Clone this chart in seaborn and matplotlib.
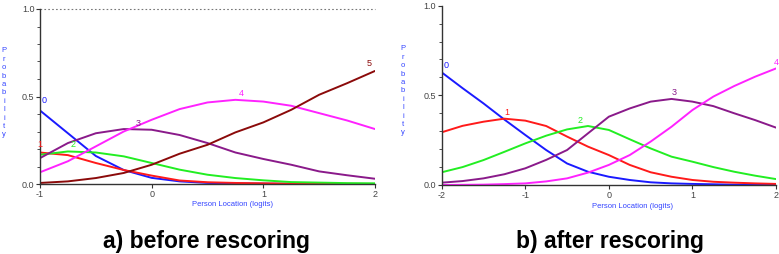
import numpy as np
import pandas as pd
import matplotlib
matplotlib.use("Agg")
import matplotlib.pyplot as plt
import seaborn as sns

# ---- data: panel a (before rescoring), categories 0..5 ----
xa = [-1.0, -0.75, -0.5, -0.25, 0.0, 0.25, 0.5, 0.75, 1.0, 1.25, 1.5, 1.75, 2.0]
a_cat0 = [0.42, 0.29, 0.16, 0.08, 0.035, 0.015, 0.006, 0.003, 0.002, 0.001, 0.001, 0.0, 0.0]
a_cat1 = [0.18, 0.165, 0.12, 0.08, 0.048, 0.02, 0.01, 0.006, 0.004, 0.002, 0.001, 0.001, 0.0]
a_cat2 = [0.167, 0.186, 0.18, 0.158, 0.12, 0.082, 0.053, 0.034, 0.021, 0.011, 0.008, 0.005, 0.004]
a_cat3 = [0.148, 0.234, 0.29, 0.314, 0.31, 0.28, 0.234, 0.18, 0.143, 0.11, 0.072, 0.05, 0.03]
a_cat4 = [0.067, 0.13, 0.215, 0.30, 0.367, 0.428, 0.466, 0.481, 0.471, 0.447, 0.405, 0.363, 0.314]
a_cat5 = [0.006, 0.015, 0.034, 0.063, 0.11, 0.173, 0.224, 0.295, 0.352, 0.424, 0.51, 0.576, 0.646]

# ---- data: panel b (after rescoring), categories 0..4 ----
xb = [-2.0, -1.75, -1.5, -1.25, -1.0, -0.75, -0.5, -0.25, 0.0, 0.25, 0.5, 0.75, 1.0, 1.25, 1.5, 1.75, 2.0]
b_cat0 = [0.628, 0.54, 0.455, 0.365, 0.279, 0.195, 0.12, 0.074, 0.046, 0.028, 0.015, 0.009, 0.006, 0.004, 0.002, 0.001, 0.001]
b_cat1 = [0.294, 0.33, 0.353, 0.37, 0.359, 0.329, 0.27, 0.214, 0.167, 0.112, 0.071, 0.046, 0.028, 0.018, 0.013, 0.009, 0.006]
b_cat2 = [0.071, 0.10, 0.139, 0.185, 0.232, 0.275, 0.31, 0.329, 0.307, 0.255, 0.204, 0.158, 0.13, 0.10, 0.074, 0.052, 0.033]
b_cat3 = [0.013, 0.022, 0.037, 0.06, 0.093, 0.14, 0.195, 0.288, 0.381, 0.427, 0.465, 0.48, 0.465, 0.44, 0.40, 0.362, 0.32]
b_cat4 = [0.0, 0.001, 0.002, 0.005, 0.009, 0.02, 0.037, 0.069, 0.112, 0.167, 0.242, 0.325, 0.418, 0.493, 0.552, 0.604, 0.65]

a_labels = ["0", "1", "2", "3", "4", "5"]
b_labels = ["0", "1", "2", "3", "4"]
a_label_pos = [(-0.96, 0.45), (-1.0, 0.2), (-0.7, 0.2), (-0.12, 0.32), (0.8, 0.49), (1.95, 0.66)]
b_label_pos = [(-1.95, 0.64), (-1.22, 0.38), (-0.35, 0.335), (0.78, 0.49), (2.0, 0.66)]

titles = ["a) before rescoring", "b) after rescoring"]
xlabel = "Person Location (logits)"
ylabel = "Probability"

colors_a = ["#1a1aff", "#ff1a1a", "#22ee22", "#8a1a8a", "#ff22ff", "#8b0a0a"]
colors_b = ["#1a1aff", "#ff1a1a", "#22ee22", "#8a1a8a", "#ff22ff"]

sns.set_theme(style="white")
plt.rcParams['font.family'] = ['Liberation Sans', 'DejaVu Sans']

fig = plt.figure(figsize=(7.79, 2.54), dpi=100)
axA = fig.add_axes([40/779, 1-184/254, 335/779, 175/254])
axB = fig.add_axes([441.7/779, 1-185/254, 334.3/779, 179.3/254])

def long_df(x, series, labels):
    rows = []
    for lab, ys in zip(labels, series):
        for xv, yv in zip(x, ys):
            rows.append((xv, yv, lab))
    return pd.DataFrame(rows, columns=["x", "p", "cat"])

dfA = long_df(xa, [a_cat0, a_cat1, a_cat2, a_cat3, a_cat4, a_cat5], a_labels)
dfB = long_df(xb, [b_cat0, b_cat1, b_cat2, b_cat3, b_cat4], b_labels)

sns.lineplot(data=dfA, x="x", y="p", hue="cat", palette=colors_a, ax=axA, lw=1.4, legend=False)
sns.lineplot(data=dfB, x="x", y="p", hue="cat", palette=colors_b, ax=axB, lw=1.4, legend=False)

for ax, labs, pos, cols in [(axA, a_labels, a_label_pos, colors_a), (axB, b_labels, b_label_pos, colors_b)]:
    for lab, (px, py), c in zip(labs, pos, cols):
        ax.text(px, py, lab, color=c, fontsize=6.5, ha="center", va="bottom")

axA.plot([-1, 2], [1, 1], ls=(0, (1.5, 2)), color="#777777", lw=0.8, clip_on=False)

for ax, (x0, x1) in [(axA, (-1, 2)), (axB, (-2, 2))]:
    ax.set_xlim(x0, x1)
    ax.set_ylim(0, 1)
    ax.set_xticks(list(range(x0, x1 + 1)))
    ax.set_xticklabels([str(v) for v in range(x0, x1 + 1)])
    ax.set_yticks([0.0, 0.5, 1.0])
    ax.set_yticklabels(["0.0", "0.5", "1.0"])
    ax.set_yticks(np.arange(0, 1.01, 0.1), minor=True)
    ax.tick_params(axis="both", which="major", direction="out", length=3, width=0.8,
                   color="#333333", labelsize=6.5, labelcolor="#444444", pad=1,
                   left=True, bottom=True)
    ax.tick_params(axis="y", which="minor", direction="out", length=2, width=0.6,
                   color="#333333", left=True)
    for s in ["top", "right"]:
        ax.spines[s].set_visible(False)
    for s in ["left", "bottom"]:
        ax.spines[s].set_color("#333333")
        ax.spines[s].set_linewidth(1.0)
    ax.set_xlabel("")
    ax.set_ylabel("")
    ax.set_facecolor("white")

fig.text(232/779, 1-205/254, xlabel, color="#3344ff", fontsize=5.5, ha="center", va="center")
fig.text(632/779, 1-207/254, xlabel, color="#3344ff", fontsize=5.5, ha="center", va="center")
fig.text(4/779, 1-93/254, "\n".join(ylabel), color="#3344ff", fontsize=5.5, ha="center", va="center", linespacing=1.28)
fig.text(403/779, 1-91/254, "\n".join(ylabel), color="#3344ff", fontsize=5.5, ha="center", va="center", linespacing=1.28)

fig.text(207/779, 1-248/254, titles[0], fontsize=16.5, fontweight="bold", ha="center", va="baseline", color="black")
fig.text(610/779, 1-248/254, titles[1], fontsize=16.5, fontweight="bold", ha="center", va="baseline", color="black")

fig.savefig("out.png", dpi=100, facecolor="white")
